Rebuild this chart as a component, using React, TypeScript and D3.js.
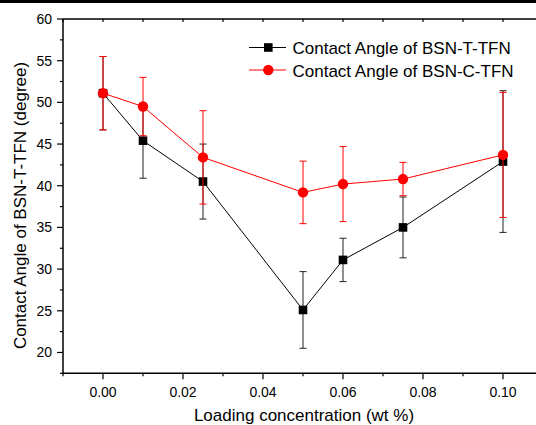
import React from "react";
import * as d3 from "d3";

const loadings = [0, 0.01, 0.025, 0.05, 0.06, 0.075, 0.1];
const tValues = [51.1, 45.4, 40.5, 25.1, 31.1, 35.0, 42.9];
const tErrors = [4.4, 4.5, 4.5, 4.6, 2.6, 3.65, 8.5];
const cValues = [51.1, 49.5, 43.4, 39.2, 40.2, 40.8, 43.7];
const cErrors = [4.4, 3.5, 5.6, 3.75, 4.5, 2.0, 7.5];
const seriesNames = ["Contact Angle of BSN-T-TFN", "Contact Angle of BSN-C-TFN"];
const xMajorTicks = [0, 0.02, 0.04, 0.06, 0.08, 0.1];
const xMinorTicks = [-0.01, 0.01, 0.03, 0.05, 0.07, 0.09];
const yMajorTicks = [20, 25, 30, 35, 40, 45, 50, 55, 60];
const yMinorTicks = [17.5, 22.5, 27.5, 32.5, 37.5, 42.5, 47.5, 52.5, 57.5];
const xTitle = "Loading concentration (wt %)";
const yTitle = "Contact Angle of BSN-T-TFN (degree)";

const W = 536;
const H = 425;
const left = 63;
const right = 543;
const top = 19;
const bottom = 373.3;
const font = "'Liberation Sans', Arial, sans-serif";

export default function App() {
  const x = d3.scaleLinear().domain([-0.01, 0.11]).range([left, right]);
  const y = d3.scaleLinear().domain([17.5, 60]).range([bottom, top]);
  const line = d3
    .line<number>()
    .x((_, i) => x(loadings[i]))
    .y((d) => y(d));
  const cap = 3.5;

  const errBars = (vals: number[], errs: number[], color: string, key: string) =>
    vals.map((v, i) => {
      const cx = x(loadings[i]);
      const y1 = y(v + errs[i]);
      const y2 = y(v - errs[i]);
      return (
        <g key={key + i} stroke={color} strokeWidth={1}>
          <line x1={cx} x2={cx} y1={y1} y2={y2} />
          <line x1={cx - cap} x2={cx + cap} y1={y1} y2={y1} />
          <line x1={cx - cap} x2={cx + cap} y1={y2} y2={y2} />
        </g>
      );
    });

  const allXTicks = [...xMajorTicks, ...xMinorTicks];

  return (
    <svg
      width={W}
      height={H}
      style={{ position: "absolute", left: 0, top: 0, background: "#fff" }}
      fontFamily={font}
    >
      <rect x={0} y={0} width={W} height={H} fill="#fff" />
      <rect x={0} y={0} width={W} height={3} fill="#000" />

      {/* frame */}
      <g stroke="#000" strokeWidth={1.5} fill="none">
        <line x1={left} x2={left} y1={top} y2={bottom} />
        <line x1={left} x2={right} y1={bottom} y2={bottom} />
        <line x1={left} x2={right} y1={top} y2={top} />
        <line x1={right} x2={right} y1={top} y2={bottom} />
      </g>

      {/* ticks */}
      <g stroke="#000" strokeWidth={1.2}>
        {yMajorTicks.map((t) => (
          <line key={"ym" + t} x1={left - 6} x2={left} y1={y(t)} y2={y(t)} />
        ))}
        {yMinorTicks.map((t) => (
          <line key={"yn" + t} x1={left - 3} x2={left} y1={y(t)} y2={y(t)} />
        ))}
        {xMajorTicks.map((t) => (
          <line key={"xm" + t} x1={x(t)} x2={x(t)} y1={bottom} y2={bottom + 6} />
        ))}
        {xMinorTicks.map((t) => (
          <line key={"xn" + t} x1={x(t)} x2={x(t)} y1={bottom} y2={bottom + 3} />
        ))}
        {allXTicks.map((t) => (
          <line key={"xt" + t} x1={x(t)} x2={x(t)} y1={top} y2={top + 3} />
        ))}
      </g>

      {/* tick labels */}
      <g fontSize={14} fill="#000">
        {yMajorTicks.map((t) => (
          <text key={"yl" + t} x={52} y={y(t)} dy="0.36em" textAnchor="end">
            {t}
          </text>
        ))}
        {xMajorTicks.map((t) => (
          <text key={"xl" + t} x={x(t)} y={397} textAnchor="middle">
            {d3.format(".2f")(t)}
          </text>
        ))}
      </g>

      {/* titles */}
      <text x={304} y={420.5} fontSize={17} textAnchor="middle" fill="#000">
        {xTitle}
      </text>
      <text
        transform={`translate(26,${205.5}) rotate(-90)`}
        fontSize={17}
        textAnchor="middle"
        fill="#000"
      >
        {yTitle}
      </text>

      {/* T series */}
      {errBars(tValues, tErrors, "#222", "te")}
      <path d={line(tValues) || ""} fill="none" stroke="#000" strokeWidth={1} />
      {tValues.map((v, i) => (
        <rect
          key={"ts" + i}
          x={x(loadings[i]) - 4.3}
          y={y(v) - 4.3}
          width={8.6}
          height={8.6}
          fill="#000"
        />
      ))}

      {/* C series */}
      {errBars(cValues, cErrors, "#f00", "ce")}
      <path d={line(cValues) || ""} fill="none" stroke="#f00" strokeWidth={1} />
      {cValues.map((v, i) => (
        <circle key={"cs" + i} cx={x(loadings[i])} cy={y(v)} r={5.2} fill="#f00" />
      ))}

      {/* legend */}
      <g>
        <line x1={249} x2={286} y1={47.5} y2={47.5} stroke="#000" strokeWidth={1} />
        <rect x={268.3 - 4.3} y={47.5 - 4.3} width={8.6} height={8.6} fill="#000" />
        <text x={292.5} y={54} fontSize={17} fill="#000">
          {seriesNames[0]}
        </text>
        <line x1={249} x2={286} y1={70} y2={70} stroke="#f00" strokeWidth={1} />
        <circle cx={268.3} cy={70} r={5.2} fill="#f00" />
        <text x={292.5} y={76.5} fontSize={17} fill="#000">
          {seriesNames[1]}
        </text>
      </g>
    </svg>
  );
}
